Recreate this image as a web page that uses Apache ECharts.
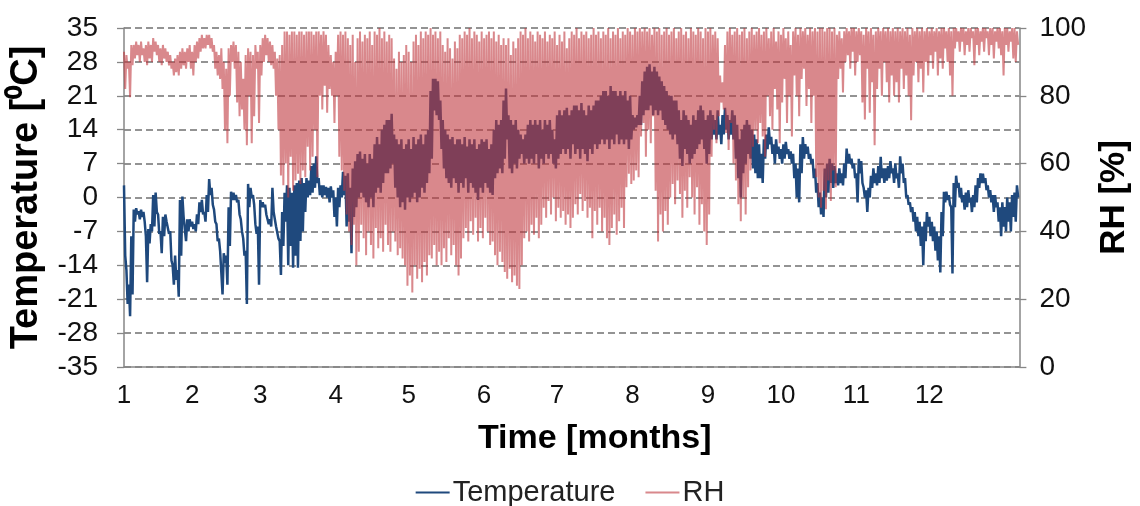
<!DOCTYPE html>
<html><head><meta charset="utf-8">
<script src="https://cdn.jsdelivr.net/npm/echarts@6/dist/echarts.min.js"></script>
<style>html,body{margin:0;padding:0;background:#fff}#c{width:1140px;height:506px}</style>
</head><body><div id="c"></div>
<script>
// x = day index from the start of the record (left edge of the plot)
const monthLabels = ['1','2','3','4','5','6','7','8','9','10','11','12'];
const monthTickDays = [0,28,56,87,117,148,178,209,240,270,301,331];
const tempTicks = [-35,-28,-21,-14,-7,0,7,14,21,28,35];
const rhTicks = [0,20,40,60,80,100];

// daily maximum temperature [°C]
const tempHi = [
2.5,-15,-18,-8,-2.5,-2.2,-2.8,-2.5,-3,-8,
-6.5,-5.5,0.5,1,-3.5,-7,-4,-3.5,-5,-7,
-14,-12,-15,-0.5,0.2,-6.5,-4.5,-4.5,-5,-5.5,
-3.5,-1,-0.5,-3,0.5,3.8,2,-2.5,-5.5,-8.5,
-11,-11.5,-12,-2,1.2,1,0.5,-0.5,-4.5,-8.5,
-11,2.8,2,0.5,-5.5,-6,-0.5,-1,-1.5,-3.5,
-4.5,2,-3,-6,-9,-3,1,2.5,2,1,
2.5,3,3.5,4,3,4,3.5,6.5,7,8.5,
4,2.5,2.5,2.2,2,2.3,1.5,0,2,2.5,
5.3,4.5,5,2,6,7.5,9,9.5,8,9,
7,9,8,11,12.5,11,14,15,16,16,
17.3,13,12,11,12,10,11,12,10,12.5,
11,12,13,11,13,14,22,24.5,24.5,24,
20,16,14,13,12,12.5,11,12,12,11,
12.5,10.5,12,11,12,10,11,12,11.5,12,
10,11,14,16,15,16,20,22.5,17,16,
15,16,14,13,12,13,15,16,15,16,
15,16,14,16,15,16,14,12,17,18,
17,18,18.5,17,18,19,19,18,19.5,18,
17,19,18,19,20,20,21,22,22,21,
23,22,22,21,22,21,22,20,21,17,
16.5,17,21,24,26,27,27.5,26,27,26,
25,24,23,22,21,21,20,20,18,16,
18,17,16,15,17,16,18,19,18,16,
17,18,17,16,18,15,17,18.5,17,16,
18,17,15,12,14,15,16,15,14,13,
12,11,9,12,13,14.5,12.5,11,12,10.5,
10,11,11.5,10,9.5,9,7,6,11,12.5,
11,10.5,9,8,6,3,1,0,6,7,
8,7,6.5,5,6,5,7,10.1,9,8,
7,5,8,7.5,2,1.5,2,4.5,6,5,
6.5,8.4,6,6,6.5,7.5,6,7,5,8.5,
7,4,0.5,-1,-2,-3,-4,-5,-6,-5,
-3,-4,-5,-6,-7,-8,-3,1.2,1.2,0.5,
-2,3,4.5,3,2,0.5,1,1.5,0,0.5,
2.5,4,5,4.9,4,2.5,1.5,0.5,0.5,-1,
-2,-1,-2,0,-1,0.5,1,2.5
];
// daily minimum temperature [°C]
const tempLo = [
-12,-22,-24.5,-20,-5,-3.5,-4.5,-4,-5,-17.5,
-9.5,-7,-6,-3,-7.5,-11.5,-8,-5,-7.5,-13,
-18,-17,-20.5,-12,-4,-9,-7,-6,-6.5,-7,
-5.5,-3,-3.5,-5,-3,0.5,-1.5,-5,-9,-11,
-20,-13.5,-18,-10,-0.5,-0.5,-1,-3.5,-7,-12,
-22,-2,0,-1.5,-7.5,-18,-2,-2,-3.5,-5.5,
-6,-3,-6,-8.5,-16,-10,-5,-14,-10,-14.5,
-12,-14.5,-9,-7,-3,0,0.5,1,2,3,
0.5,0,0.5,0,-1,0,-4,-6,-2,0,
0.5,-6,-5,-11.5,-4,-2,0,1,0,-1,
-2,0,-2,1,2,1,3,5,5,6,
7,2,0,-2,-1,-2.5,0,-1,0,1,
-1,0,2,1,3,5,8,18,17,16,
10,6,4,3,2,4,3,1,3,2,
4,1,3,2,1,-0.5,2,1,3,2,
1,0.5,4,5,6,5,8,12,6,5,
7,6,8,9,7,8,7,8,7,9,
6,8,7,9,8,9,7,6,8,9,
10,9,10,8,11,9,10,8,10,9,
7.5,10,9,11,10,11,12,11,12,10,
12,11,13,11,12,11,12,10,12,14,
14.5,15,15,17,18,18,19,17,18,17,
18,16,15,14,13,12,13,11,8,6.5,
10,9,7,8,9,10,11,12,10,7,
9,12,13,12,13,11,13,14,12,13,
12,8,4,0,5,7,9,8,6,5,
4,4,3,8,10,11,9,7,9,8,
7,8,9,8,7,4,0,-1,5,8,
9,8,7,4,1,-2,-3.5,-4,0,1,
3,2,3,2.5,3,2.5,4,7,7,6,
4,-1,5,3,0,-3,0,2,3,2.5,
3,4,3,3.5,4,5,3,4,2,5,
3,0,-1.5,-3,-5,-7,-8,-10,-14,-9,
-6,-8,-9,-11,-13,-15.5,-8,-1,-0.5,-1.5,
-15.7,-2,2,0,-1,-2.5,-2,-1,-3,-2,
-1,2,3,3,1.5,0,-1,-3,-2,-5,
-8,-6,-7,-5,-7,-4,-5,0
];
// daily maximum relative humidity [%]
const rhHi = [
93,92,90,95,95,96,95,96,94,95,
96,95,97,96,95,94,95,94,93,92,
90,91,92,93,94,93,94,95,93,95,
96,97,98,97,98,98,97,95,93,92,
94,90,88,94,95,96,95,93,90,85,
92,94,93,92,95,93,95,97,98,97,
96,95,93,91,92,95,99,99,98,99,
99,98,99,99,98,99,99,99,98,99,
99,98,99,98,95,92,90,93,98,99,
98,99,97,95,98,90,97,99,96,98,
97,99,95,99,98,100,97,99,96,98,
97,91,88,93,90,92,95,93,90,96,
98,95,99,97,99,98,100,98,99,97,
99,95,93,97,94,91,96,94,98,97,
99,98,100,97,99,98,96,99,97,98,
99,97,99,96,98,95,97,95,97,92,
96,94,97,99,98,100,97,99,98,96,
99,98,97,99,96,98,97,99,95,98,
96,99,94,97,99,98,100,97,99,98,
99,97,98,100,98,99,97,99,98,100,
97,99,98,100,97,99,98,100,99,98,
100,99,100,99,100,99,100,98,100,99,
100,98,99,100,98,99,100,97,99,100,
98,99,97,100,99,98,100,99,97,100,
99,100,98,99,97,86,84,95,99,100,
98,99,100,98,99,100,97,99,100,98,
99,100,98,99,100,97,99,100,96,99,
98,100,97,99,95,99,100,98,100,99,
100,98,100,99,100,99,100,100,99,100,
100,99,100,98,99,97,99,100,99,100,
100,99,100,99,98,100,99,100,98,99,
100,99,100,99,100,99,100,99,100,99,
100,99,100,98,100,99,100,99,100,99,
100,99,100,99,100,99,100,100,99,100,
99,100,100,99,100,100,99,100,100,99,
100,100,99,100,100,99,100,100,99,100,
100,99,100,100,99,100,100,99
];
// daily minimum relative humidity [%]
const rhLo = [
82,88,79.6,89,91,92,90,92,90,89,
91,90,93,92,90,89,91,90,89,88,
86,87,86,88,89,88,90,88,86,90,
91,93,94,94,95,94,93,88,86,85,
82,70,66,80,90,88,78,74,76,70,
65.4,80,66,74,88,72,86,90,92,90,
89,88,80,70,56.5,53.6,60,50,62,52,
55,57,54,58,56,65,58,62,70,56,
80,76,83,75,82,80,72,80,62,58,
52,45,40,36,42,30,34,42,38,33,
40,36,32,41,35,38,34,42,36,34,
40,37,33,35,32,30,24,27,22,30,
26,29,25,31,27,33,32,36,30,34,
30,35,31,38,33,36,30,27,32,38,
41,37,43,39,44,37,41,38,44,40,
36,37,33,30,34,31,28,26,29,25,
27,24,23,30,38,40,37,42,39,44,
38,42,47,44,49,45,50,43,47,44,
46,42,45,41,44,48,45,51,46,49,
44,47,38,46,42,47,40,44,38,36,
41,45,39,43,47,41,53,57,54,55,
58,56,68,72,62,70,66,74,52,37,
45,40,46,42,50,54,48,55,51,44,
52,47,56,50,45,53,42,48,40,36,
45,62,70,66,74,78,76,69,64,72,
60,55,48,43,50,45,53,58,65,70,
66,72,68,62,80,74,70,82,76,66,
78,85,72,80,68,86,80,74,85,88,
77,82,72,80,56,50,47,52,46.5,55,
49,58,53,85,88,81,90,92,88,93,
86,90,92,78,73,88,75,84,65.4,82,
88,80,90,84,78,86,80,84,78,88,
82,86,80,72.8,86,90,84,88,81,90,
86,92,88,93,86,91,88,94,90,86,
80,94,96,93,96,92,95,93,97,89,
95,92,96,93,97,92,95,91,96,94,
92,86,95,93,96,91,90,95
];

// each day drawn as its maximum followed by its minimum (sub-daily swing)
function dailySwing(hi, lo) {
  const out = [];
  for (let d = 0; d < hi.length; d++) {
    out.push([d, hi[d]]);
    out.push([d + 0.5, lo[d]]);
  }
  return out;
}

const FONT = '"Liberation Sans", Arial, sans-serif';
const axisGray = '#868686';
const chart = echarts.init(document.getElementById('c'), null, {renderer: 'canvas'});
chart.setOption({
  animation: false,
  textStyle: {fontFamily: FONT},
  grid: {left: 124, right: 120, top: 28, bottom: 139},
  legend: {
    top: 473, left: 'center',
    icon: 'rect', itemWidth: 34, itemHeight: 2, itemGap: 30,
    textStyle: {fontSize: 29, color: '#222', fontFamily: FONT, padding: [0, 0, 0, -2]},
    data: ['Temperature', 'RH']
  },
  xAxis: {
    type: 'value', min: 0, max: 368,
    name: 'Time [months]', nameLocation: 'middle', nameGap: 55,
    nameTextStyle: {fontSize: 34, fontWeight: 'bold', color: '#000', padding: [0, 0, 0, 46], fontFamily: FONT},
    axisLine: {show: true, onZero: false, lineStyle: {color: axisGray, width: 1.5}},
    axisTick: {show: false},
    splitLine: {show: false},
    axisLabel: {
      customValues: monthTickDays,
      fontSize: 26, color: '#111', margin: 16,
      formatter: function (v) { const i = monthTickDays.indexOf(v); return i >= 0 ? monthLabels[i] : ''; }
    }
  },
  yAxis: [{
    type: 'value', min: -35, max: 35, interval: 7, position: 'left',
    name: 'Temperature [⁰C]', nameLocation: 'middle', nameGap: 78, nameRotate: 90,
    nameTextStyle: {fontSize: 38, fontWeight: 'bold', color: '#000', fontFamily: FONT},
    axisLine: {show: true, lineStyle: {color: axisGray, width: 1.5}},
    axisTick: {show: true, length: 7, lineStyle: {color: axisGray, width: 1.3}},
    axisLabel: {fontSize: 28, color: '#111', margin: 26,
      formatter: function (v) { return tempTicks.indexOf(v) >= 0 ? String(v) : ''; }},
    splitLine: {show: true, lineStyle: {color: '#707070', width: 1.7, type: [7, 4]}}
  }, {
    type: 'value', min: 0, max: 100, interval: 20, position: 'right',
    name: 'RH [%]', nameLocation: 'middle', nameGap: 76, nameRotate: 90,
    nameTextStyle: {fontSize: 35, fontWeight: 'bold', color: '#000', fontFamily: FONT},
    axisLine: {show: true, lineStyle: {color: axisGray, width: 1.5}},
    axisTick: {show: true, length: 7, lineStyle: {color: axisGray, width: 1.3}},
    axisLabel: {fontSize: 28, color: '#111', margin: 20,
      formatter: function (v) { return rhTicks.indexOf(v) >= 0 ? String(v) : ''; }},
    splitLine: {show: false}
  }],
  series: [{
    name: 'Temperature', type: 'line', yAxisIndex: 0,
    data: dailySwing(tempHi, tempLo),
    showSymbol: false, symbol: 'none', z: 2,
    color: '#1f497d',
    lineStyle: {color: '#1f497d', width: 2.5}
  }, {
    name: 'RH', type: 'line', yAxisIndex: 1,
    data: dailySwing(rhHi, rhLo),
    showSymbol: false, symbol: 'none', z: 3,
    color: 'rgba(192,56,64,0.6)',
    lineStyle: {color: 'rgba(192,56,64,0.6)', width: 2}
  }]
});
</script>
</body></html>
